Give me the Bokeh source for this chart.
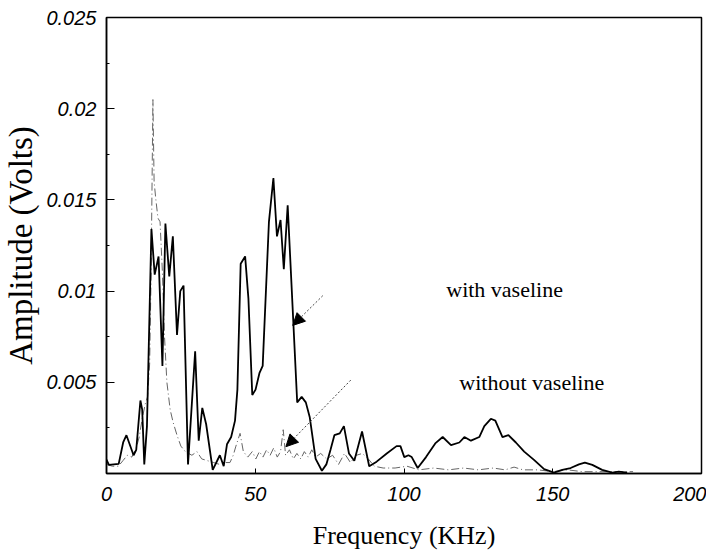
from bokeh.plotting import figure
from bokeh.models import Range1d, FixedTicker, PrintfTickFormatter, Label, Arrow, NormalHead
from bokeh.embed import file_html
from bokeh.resources import INLINE

# ---- data: with vaseline (solid) ----
freq_with = [0, 0.8, 4.1, 5.6, 6.7, 9.1, 10.0, 11.4, 12.0, 12.7, 13.6, 15.1, 16.2, 17.5, 18.8,
             19.8, 21.1, 22.3, 23.7, 24.8, 25.9, 27.4, 29.8, 31.0, 32.2, 33.5, 35.7, 38.1, 39.4,
             40.5, 41.9, 43.2, 44.0, 45.1, 46.6, 47.7, 49.0, 50.1, 51.4, 52.5, 54.6, 56.1, 57.3,
             58.5, 59.6, 60.9, 64.1, 65.6, 67.0, 68.3, 70.3, 72.4, 73.9, 75.3, 76.6, 78.4, 79.8,
             81.5, 83.3, 85.9, 88.3, 90.8, 94.2, 97.5, 98.8, 100.1, 101.5, 102.6, 104.6, 107.4,
             110.5, 113.0, 115.8, 118.6, 120.3, 122.5, 125.3, 127.0, 129.2, 130.7, 133.1, 135.1,
             137.6, 140.4, 143.7, 147.1, 150.4, 153.2, 156.0, 158.8, 160.8, 163.3, 166.6, 170.0,
             172.2, 175.0]
amp_with = [0.00076, 0.00047, 0.00053, 0.0017, 0.0021, 0.0010, 0.0013, 0.0040, 0.0035, 0.0005,
            0.0026, 0.0134, 0.0109, 0.0119, 0.0059, 0.0137, 0.0108, 0.0130, 0.0076, 0.0100,
            0.0103, 0.0005, 0.0067, 0.0018, 0.0036, 0.0027, 0.0002, 0.0010, 0.0004, 0.0016,
            0.0020, 0.0029, 0.0046, 0.0115, 0.0119, 0.0096, 0.0043, 0.0046, 0.0055, 0.0059,
            0.0138, 0.0162, 0.0130, 0.0139, 0.0112, 0.0147, 0.0039, 0.0042, 0.0039, 0.0031,
            0.0008, 0.00015, 0.0005, 0.0013, 0.0021, 0.0022, 0.0026, 0.0011, 0.0007, 0.0023,
            0.0004, 0.00065, 0.0011, 0.0015, 0.0015, 0.0009, 0.0010, 0.0009, 0.0003, 0.0009,
            0.00165, 0.0020, 0.00156, 0.0017, 0.0020, 0.0018, 0.0020, 0.0026, 0.0030, 0.0029,
            0.0020, 0.0021, 0.0017, 0.0012, 0.00075, 0.00024, 0.00005, 0.0002, 0.0003, 0.0005,
            0.0006, 0.00047, 0.0002, 0.00005, 0.0001, 0.00005]

# ---- data: without vaseline (dash-dot) ----
freq_without = [0, 2, 4, 5.5, 7, 8.5, 10, 11, 12, 13, 13.8, 14.5, 15.0, 15.6, 16.0, 16.6, 17.3,
                18.0, 18.8, 19.5, 20.3, 21.4, 22.4, 23.7, 25.0, 26.5, 28.7, 30.4, 32.0, 34.0,
                36.0, 38.0, 40.0, 41.5, 42.6, 43.5, 44.9, 46.0, 47.5, 49.0, 50.2, 51.4, 52.6,
                53.8, 55.0, 56.2, 57.4, 58.5, 59.4, 60.2, 61.5, 62.8, 64.0, 65.3, 66.5, 67.8,
                69.0, 70.3, 72.0, 74.0, 76.0, 78.0, 80.0, 82.0, 84.0, 86.0, 88.0, 90.0, 93.0,
                97.0, 101.0, 105.0, 110.0, 115.0, 120.0, 125.0, 130.0, 134.0, 137.0, 140.0,
                145.0, 150.0, 155.0, 160.0, 165.0, 170.0, 177.0]
amp_without = [0.0005, 0.0004, 0.0004, 0.0007, 0.0010, 0.0009, 0.0014, 0.0020, 0.0030, 0.0038,
               0.0042, 0.0060, 0.0110, 0.0205, 0.0160, 0.0150, 0.0140, 0.0138, 0.0110, 0.0075,
               0.0050, 0.0035, 0.0028, 0.0021, 0.0015, 0.0012, 0.0010, 0.0012, 0.0008, 0.0007,
               0.0006, 0.0005, 0.0006, 0.0006, 0.0010, 0.0015, 0.0022, 0.0012, 0.0009, 0.0012,
               0.0008, 0.0012, 0.0009, 0.0013, 0.0010, 0.0014, 0.0009, 0.0012, 0.0024, 0.0010,
               0.0013, 0.0008, 0.0011, 0.0008, 0.0012, 0.0009, 0.0013, 0.0009, 0.0011, 0.0008,
               0.0010, 0.0005, 0.0011, 0.0006, 0.0010, 0.0011, 0.0008, 0.0004, 0.0003, 0.0003,
               0.0004, 0.0002, 0.0003, 0.0002, 0.0003, 0.0002, 0.0003, 0.0002, 0.00035, 0.0002,
               0.0002, 0.0001, 0.0002, 0.0001, 0.0001, 0.0001, 0.0001]

x_ticks = [0, 50, 100, 150, 200]
y_ticks = [0.005, 0.01, 0.015, 0.02, 0.025]
y_minor = [0.0025, 0.0075, 0.0125, 0.0175, 0.0225]

# annotation positions (data units)
label_texts = ["with vaseline", "without vaseline"]
label_x = [114.2, 118.6]
label_y = [0.0101, 0.0050]
arrow_start = [(72.7, 0.00975), (82.1, 0.00512)]
arrow_end = [(62.6, 0.00812), (60.3, 0.00147)]

p = figure(width=706, height=552, output_backend="svg", toolbar_location=None,
           x_range=Range1d(0, 200), y_range=Range1d(0, 0.025),
           min_border_left=104, min_border_right=5, min_border_top=17, min_border_bottom=74)
p.background_fill_color = "white"
p.border_fill_color = "white"
p.outline_line_color = "black"
p.outline_line_width = 1.5
p.xgrid.visible = False
p.ygrid.visible = False

p.line(freq_without, amp_without, line_color="#666666", line_width=1.0, line_dash="8 3 1 3")
p.line(freq_with, amp_with, line_color="black", line_width=1.8)

for t, x, y in zip(label_texts, label_x, label_y):
    p.add_layout(Label(x=x, y=y, text=t, text_font="Liberation Serif", text_font_size="22px",
                       text_color="black", text_baseline="alphabetic"))

for (xs, ys), (xe, ye) in zip(arrow_start, arrow_end):
    p.add_layout(Arrow(end=NormalHead(size=12, fill_color="black", line_color="black"),
                       x_start=xs, y_start=ys, x_end=xe, y_end=ye,
                       line_color="#444444", line_width=1, line_dash="2 2"))

for ax in (p.xaxis[0], p.yaxis[0]):
    ax.axis_line_color = "black"
    ax.axis_line_width = 1.5
    ax.major_tick_line_color = "black"
    ax.minor_tick_line_color = "black"
    ax.major_tick_out = 0
    ax.minor_tick_out = 0
    ax.major_label_text_font = "Liberation Sans"
    ax.major_label_text_font_style = "italic"
    ax.major_label_text_font_size = "20px"
    ax.major_label_text_color = "black"
    ax.axis_label_text_font = "Liberation Serif"
    ax.axis_label_text_font_style = "normal"
    ax.axis_label_text_color = "black"
    ax.formatter = PrintfTickFormatter(format="%g")

p.xaxis.ticker = FixedTicker(ticks=x_ticks, minor_ticks=[])
p.yaxis.ticker = FixedTicker(ticks=y_ticks, minor_ticks=y_minor)
p.xaxis.major_tick_in = 5
p.yaxis.major_tick_in = 8
p.yaxis.minor_tick_in = 3
p.xaxis.major_label_standoff = 13
p.yaxis.major_label_standoff = 10
p.xaxis.axis_label = "Frequency (KHz)"
p.yaxis.axis_label = "Amplitude (Volts)"
p.xaxis.axis_label_text_font_size = "26px"
p.yaxis.axis_label_text_font_size = "33px"
p.xaxis.axis_label_standoff = 17
p.yaxis.axis_label_standoff = 4

open("out.html", "w").write(file_html(p, INLINE))
